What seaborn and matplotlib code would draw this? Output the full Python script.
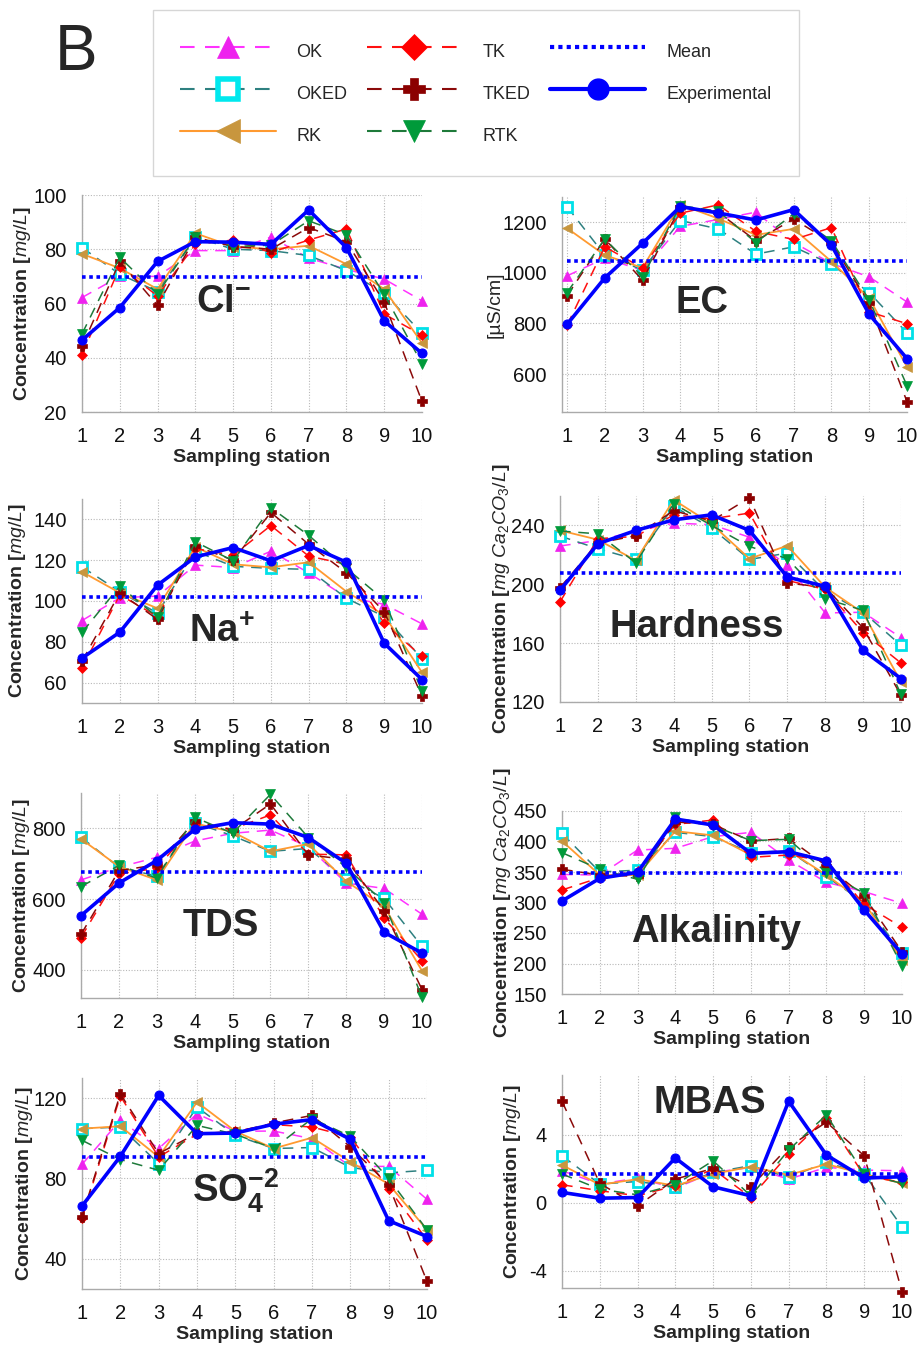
import numpy as np
import pandas as pd
import matplotlib
matplotlib.use("Agg")
import matplotlib.pyplot as plt
import seaborn as sns
from matplotlib.ticker import MultipleLocator
from matplotlib.lines import Line2D

sns.set_style("white")
plt.rcParams['font.family'] = ['Liberation Sans', 'DejaVu Sans']
plt.rcParams['mathtext.fontset'] = 'custom'
plt.rcParams['mathtext.rm'] = 'Liberation Sans'
plt.rcParams['mathtext.it'] = 'Liberation Sans:italic'
plt.rcParams['mathtext.bf'] = 'Liberation Sans:bold'
plt.rcParams['axes.unicode_minus'] = False

stations = [1, 2, 3, 4, 5, 6, 7, 8, 9, 10]
models = ["OK", "OKED", "RK", "TK", "TKED", "RTK"]

# ---- Cl- ----
cl_exp = [46.5, 58.5, 75.5, 82.8, 82.6, 81.8, 94.5, 80.6, 53.6, 41.6]
cl_ok = [62.2, 70, 70, 79.5, 79.5, 84.5, 76.7, 72.6, 69, 61]
cl_oked = [80.6, 70.8, 64.4, 84.5, 80, 79.5, 77.7, 72.1, 63.8, 49]
cl_rk = [78.3, 73, 65.3, 85.9, 81, 80, 81.3, 74.5, 65.3, 45.4]
cl_tk = [41.1, 73.4, 62.8, 81.8, 83.4, 78.8, 83.4, 87.5, 56.1, 48.3]
cl_tked = [44.2, 75.5, 59.3, 84.4, 81, 80, 88, 82.8, 60.5, 23.9]
cl_rtk = [48.8, 77, 63.5, 84.5, 81, 81.5, 90.5, 85.3, 63.4, 37.8]
cl_mean = 69.8

# ---- EC ----
ec_exp = [796, 980, 1117, 1262, 1237, 1209, 1250, 1110, 836, 661]
ec_ok = [988, 1058, 1010, 1184, 1211, 1240, 1120, 1037, 984, 885]
ec_oked = [1262, 1070, 1012, 1207, 1174, 1074, 1103, 1034, 922, 763]
ec_rk = [1177, 1070, 1020, 1270, 1215, 1150, 1174, 1045, 900, 628]
ec_tk = [792, 1103, 1019, 1236, 1269, 1164, 1132, 1179, 846, 799]
ec_tked = [909, 1134, 971, 1260, 1240, 1127, 1213, 1120, 880, 491]
ec_rtk = [922, 1134, 985, 1266, 1244, 1120, 1233, 1127, 893, 554]
ec_mean = 1046

# ---- Na+ ----
na_exp = [72, 84.7, 107.8, 121.6, 126.2, 119.7, 127.2, 119, 79.3, 61.5]
na_ok = [90.4, 101.6, 102.4, 117.6, 116.4, 124.4, 113.8, 101.8, 98.4, 88.8]
na_oked = [116.7, 104.6, 94, 124.4, 117, 116, 115.5, 101.3, 92.4, 71.7]
na_rk = [114.3, 104, 96.4, 126.5, 118, 116.5, 119, 104.6, 93, 65]
na_tk = [67.2, 103, 92.4, 125.7, 122.4, 137, 122, 118, 89, 72.8]
na_tked = [70.4, 104, 91, 127, 120, 143.4, 127.8, 113.8, 94.8, 53.3]
na_rtk = [84.6, 107.3, 92, 129, 119.7, 145.7, 132.2, 116, 100.5, 55.8]
na_mean = 101.8

# ---- Hardness ----
hd_exp = [195.9, 227.5, 236.6, 243.8, 247.2, 236.6, 204.9, 198.6, 155.1, 135.9]
hd_ok = [226, 229.8, 236, 241.6, 240.5, 232, 212.8, 180.5, 181, 163.7]
hd_oked = [232.8, 224.2, 216.9, 252.9, 238.2, 216.9, 221.2, 195.2, 181.1, 158.5]
hd_rk = [236.6, 230.3, 216.2, 257.4, 241, 217.4, 226.2, 198, 180.5, 133.6]
hd_tk = [188, 231, 232.5, 247.2, 244.5, 248.4, 202.6, 196.5, 167.1, 146.5]
hd_tked = [197.7, 228, 233, 250, 243, 258.8, 200.8, 198, 170.3, 124.5]
hd_rtk = [236.2, 234.3, 214.6, 254.7, 240, 225.7, 217.4, 190.2, 182.3, 125.2]
hd_mean = 208

# ---- TDS ----
tds_exp = [553, 645, 709, 797, 816, 812, 774, 701, 506, 447]
tds_ok = [654, 690, 718, 764, 786, 795, 748, 645, 630, 557]
tds_oked = [775, 690, 665, 816, 779, 735, 743, 657, 602, 466]
tds_rk = [770, 692, 654, 814, 790, 735, 756, 650, 579, 397]
tds_tk = [491, 671, 687, 812, 798, 838, 727, 725, 546, 426]
tds_tked = [500, 680, 697, 820, 795, 869, 725, 712, 567, 344]
tds_rtk = [635, 695, 659, 831, 786, 896, 774, 690, 590, 322]
tds_mean = 676

# ---- Alkalinity ----
alk_exp = [302.5, 339.6, 349.5, 436.9, 427, 380.6, 383.3, 368, 287.7, 215.6]
alk_ok = [346, 345, 386, 388.8, 408, 415, 369.7, 333, 317.8, 298.6]
alk_oked = [413.4, 350, 353, 415, 408, 381.7, 385, 342.3, 300, 216.7]
alk_rk = [400.8, 345, 345, 417, 410, 378, 385, 345, 300, 205.7]
alk_tk = [320.5, 340.7, 351.6, 428, 435.2, 374, 377.9, 368, 297, 259.3]
alk_tked = [354.4, 345, 343, 432, 428, 400.8, 405, 360, 310, 219.4]
alk_rtk = [381.7, 354.4, 338, 439.6, 426, 401.4, 403.6, 349, 315, 196.4]
alk_mean = 349

# ---- SO4 ----
so4_exp = [66.3, 91, 121.3, 102.3, 102.6, 107, 109.3, 99.5, 59, 51.1]
so4_ok = [87, 109, 94.9, 112.2, 103.5, 103.6, 99.8, 86, 86, 69.6]
so4_oked = [104.8, 105.6, 87.4, 115.5, 101.5, 94.9, 95.4, 85.5, 82.8, 84.1]
so4_rk = [104.8, 106, 90.7, 118, 103.5, 94.9, 100.3, 88.3, 77.2, 54.4]
so4_tk = [60.2, 121, 90.7, 102, 103.6, 106.8, 105.6, 100.7, 75, 49.4]
so4_tked = [61, 122.1, 92.4, 102.5, 103, 107.6, 111.4, 95.7, 76.7, 28.8]
so4_rtk = [99, 89.4, 84.1, 106.4, 102, 94.9, 109.8, 101, 80, 54.4]
so4_mean = 90.8

# ---- MBAS ----
mb_exp = [0.61, 0.27, 0.31, 2.63, 0.94, 0.41, 5.96, 2.8, 1.45, 1.53]
mb_ok = [1.88, 1.1, 1.45, 0.86, 1.78, 2.08, 1.39, 2.08, 1.92, 1.88]
mb_oked = [2.76, 1.1, 1.25, 0.94, 1.78, 2.18, 1.49, 2.37, 1.69, -1.41]
mb_rk = [2.22, 1.06, 1.39, 1.0, 1.69, 2.12, 1.63, 2.27, 1.69, 1.14]
mb_tk = [1.06, 0.71, 0.41, 1.0, 1.98, 0.31, 2.86, 5.0, 1.59, 1.2]
mb_tked = [5.96, 1.14, -0.18, 1.39, 2.02, 0.94, 3.29, 4.73, 2.76, -5.22]
mb_rtk = [1.69, 0.8, 0.47, 1.06, 2.47, 0.4, 3.1, 5.16, 1.69, 1.14]
mb_mean = 1.69

# ---------------- styles ----------------
DASH = (0, (7, 5))
styles = {
    "OK":   dict(color="#FF33FF", ls=DASH, lw=1.1, marker="^", ms=7, mfc="#EE22EE", mec="#EE22EE", mew=0.5),
    "OKED": dict(color="#2E8080", ls=DASH, lw=1.1, marker="s", ms=6.5, mfc="white", mec="#00E0E8", mew=2.0),
    "RK":   dict(color="#FF9A30", ls="-", lw=1.3, marker="<", ms=7.5, mfc="#C8963E", mec="#C8963E", mew=0.5),
    "TK":   dict(color="#FF1010", ls=DASH, lw=1.1, marker="D", ms=5.5, mfc="#FF0000", mec="#FF0000", mew=0.5),
    "TKED": dict(color="#8B0A0A", ls=DASH, lw=1.1, marker="P", ms=7.5, mfc="#8B0000", mec="#8B0000", mew=0.5),
    "RTK":  dict(color="#1E7A3A", ls=DASH, lw=1.1, marker="v", ms=7.5, mfc="#009A3A", mec="#009A3A", mew=0.5),
}
EXP_COLOR = "#0000FF"

W, H = 919, 1347
fig = plt.figure(figsize=(W / 100, H / 100), dpi=100)

mlab = r"Concentration [$\mathit{mg/L}$]"
clab = r"Concentration [$\mathit{mg\ Ca_2CO_3/L}$]"

panels = [
    dict(name=r"$\mathbf{Cl^{-}}$", data=[cl_ok, cl_oked, cl_rk, cl_tk, cl_tked, cl_rtk], exp=cl_exp, mean=cl_mean,
         rect=(82, 195, 422, 412), xlim=(1, 10), ylim=(20, 100), major=20, minor=10, ylabel=mlab, ylx=-0.144,
         ylw="bold", txt=(0.415, 0.46)),
    dict(name="EC", data=[ec_ok, ec_oked, ec_rk, ec_tk, ec_tked, ec_rtk], exp=ec_exp, mean=ec_mean,
         rect=(562, 197, 907, 412), xlim=(0.868, 10), ylim=(450, 1300), major=200, minor=100, ylabel="[µS/cm]",
         ylx=-0.17, ylw="normal", txt=(0.406, 0.46)),
    dict(name=r"$\mathbf{Na^{+}}$", data=[na_ok, na_oked, na_rk, na_tk, na_tked, na_rtk], exp=na_exp, mean=na_mean,
         rect=(82, 499, 422, 703), xlim=(1, 10), ylim=(50, 150), major=20, minor=10, ylabel=mlab, ylx=-0.159,
         ylw="bold", txt=(0.41, 0.30)),
    dict(name="Hardness", data=[hd_ok, hd_oked, hd_rk, hd_tk, hd_tked, hd_rtk], exp=hd_exp, mean=hd_mean,
         rect=(560, 496, 901, 702), xlim=(1, 10), ylim=(120, 260), major=40, minor=20, ylabel=clab, ylx=-0.14,
         ylw="bold", txt=(0.40, 0.316)),
    dict(name="TDS", data=[tds_ok, tds_oked, tds_rk, tds_tk, tds_tked, tds_rtk], exp=tds_exp, mean=tds_mean,
         rect=(81, 793, 422, 998), xlim=(1, 10), ylim=(320, 900), major=200, minor=100, ylabel=mlab, ylx=-0.144,
         ylw="bold", txt=(0.41, 0.30)),
    dict(name="Alkalinity", data=[alk_ok, alk_oked, alk_rk, alk_tk, alk_tked, alk_rtk], exp=alk_exp, mean=alk_mean,
         rect=(562, 811, 902, 994), xlim=(1, 10), ylim=(150, 450), major=50, minor=25, ylabel=clab, ylx=-0.145,
         ylw="bold", txt=(0.453, 0.284)),
    dict(name=r"$\mathbf{SO_4^{-2}}$", data=[so4_ok, so4_oked, so4_rk, so4_tk, so4_tked, so4_rtk], exp=so4_exp,
         mean=so4_mean, rect=(82, 1078, 427, 1289), xlim=(1, 10), ylim=(25, 130), major=40, minor=20, ylabel=mlab,
         ylx=-0.136, ylw="bold", txt=(0.446, 0.41)),
    dict(name="MBAS", data=[mb_ok, mb_oked, mb_rk, mb_tk, mb_tked, mb_rtk], exp=mb_exp, mean=mb_mean,
         rect=(562, 1075, 902, 1288), xlim=(1, 10), ylim=(-5, 7.5), major=4, minor=2, ylabel=mlab, ylx=-0.115,
         ylw="bold", txt=(0.435, 0.82)),
]

for p in panels:
    l, t, r, b = p["rect"]
    ax = fig.add_axes([l / W, 1 - b / H, (r - l) / W, (b - t) / H])
    for m, vals in zip(models, p["data"]):
        st = styles[m]
        sns.lineplot(x=stations, y=vals, ax=ax, color=st["color"], linestyle=st["ls"], linewidth=st["lw"],
                     marker=st["marker"], markersize=st["ms"], markerfacecolor=st["mfc"],
                     markeredgecolor=st["mec"], markeredgewidth=st["mew"], errorbar=None, legend=False,
                     clip_on=False, zorder=3)
    sns.lineplot(x=stations, y=[p["mean"]] * len(stations), ax=ax, color=EXP_COLOR, linestyle=(0, (1, 1)),
                 linewidth=2.6, errorbar=None, legend=False, zorder=4)
    sns.lineplot(x=stations, y=p["exp"], ax=ax, color=EXP_COLOR, linestyle="-", linewidth=2.6, marker="o",
                 markersize=6.5, markerfacecolor=EXP_COLOR, markeredgecolor=EXP_COLOR, errorbar=None,
                 legend=False, clip_on=False, zorder=5)

    ax.set_xlim(*p["xlim"])
    ax.set_ylim(*p["ylim"])
    ax.set_xticks(stations)
    ax.yaxis.set_major_locator(MultipleLocator(p["major"]))
    ax.yaxis.set_minor_locator(MultipleLocator(p["minor"]))
    ax.grid(True, which="major", color="#b8b8b8", linestyle=(0, (1, 1.5)), linewidth=0.8)
    ax.set_axisbelow(True)
    for s in ["top", "right"]:
        ax.spines[s].set_visible(False)
    for s in ["left", "bottom"]:
        ax.spines[s].set_color("#aaaaaa")
        ax.spines[s].set_linewidth(1.0)
    ax.tick_params(axis="both", which="major", length=0, pad=11, labelsize=14.5, colors="#111111")
    ax.tick_params(axis="y", which="minor", length=6, width=1, color="#999999", direction="out")
    ax.tick_params(axis="x", which="minor", length=0)
    ax.set_xlabel("Sampling station", fontsize=14, fontweight="bold")
    ax.xaxis.set_label_coords(0.5, -37 / (b - t))
    ax.xaxis.label.set_va("top")
    ax.set_ylabel(p["ylabel"], fontsize=14, fontweight=p["ylw"])
    ax.yaxis.set_label_coords(p["ylx"], 0.5)
    ax.text(p["txt"][0], p["txt"][1], p["name"], transform=ax.transAxes, ha="center", va="baseline",
            fontsize=27.5, fontweight="bold", zorder=6)

# ---------------- legend ----------------
handles = []
labels = []
big = {"OK": 16, "OKED": 14, "RK": 17, "TK": 13, "TKED": 16, "RTK": 16}
for m in models:
    st = styles[m]
    mfc = st["mfc"]
    mec = st["mec"]
    if m == "OKED":
        mfc, mec = "white", "#00E8EE"
    handles.append(Line2D([], [], color=st["color"], linestyle=st["ls"], linewidth=1.5, marker=st["marker"],
                          markersize=big[m], markerfacecolor=mfc, markeredgecolor=mec,
                          markeredgewidth=4 if m == "OKED" else 0.5))
    labels.append(m)
handles.append(Line2D([], [], color=EXP_COLOR, linestyle=(0, (1, 1)), linewidth=3))
labels.append("Mean")
handles.append(Line2D([], [], color=EXP_COLOR, linestyle="-", linewidth=3, marker="o", markersize=15,
                      markerfacecolor=EXP_COLOR, markeredgecolor=EXP_COLOR))
labels.append("Experimental")

leg = fig.legend(handles, labels, loc="upper left", bbox_to_anchor=(153 / W, 1 - 10 / H), ncol=3,
                 frameon=True, fancybox=False, edgecolor="#cccccc", handlelength=5.3, handleheight=2.0,
                 handletextpad=1.15, columnspacing=1.05, labelspacing=0.78, borderpad=1.5, borderaxespad=0,
                 prop=dict(size=13))
leg.get_frame().set_linewidth(1.0)

fig.text(55 / W, 1 - 70 / H, "B", fontsize=46, ha="left", va="baseline")

fig.savefig("out.png", dpi=100)
